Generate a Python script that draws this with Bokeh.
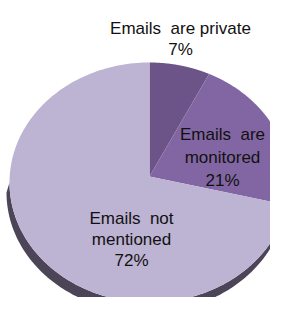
import numpy as np
from bokeh.plotting import figure
from bokeh.models import Range1d
from bokeh.core.properties import value
from bokeh.embed import file_html
from bokeh.resources import INLINE

# ---- data ----
categories = ["Emails are private", "Emails are monitored", "Emails not mentioned"]
percents = [7, 21, 72]
colors = ["#6c5489", "#8266a3", "#bdb3d3"]
label_lines = [["Emails\u00a0 are private", "7%"],
               ["Emails\u00a0 are", "monitored", "21%"],
               ["Emails\u00a0 not", "mentioned", "72%"]]

# ---- layout (screen-pixel coordinates) ----
W, H = 270, 297
p = figure(width=W, height=H, output_backend="svg", toolbar_location=None,
           x_range=Range1d(0, W), y_range=Range1d(H, 0),
           min_border=0)
p.axis.visible = False
p.grid.visible = False
p.outline_line_color = None
p.background_fill_color = "white"

cx, cy, rx, ry = 149, 182, 140, 120
apex = (149, 176)

# side rim
t = np.linspace(np.pi, 2 * np.pi, 200)
ax_ = cx + rx * np.cos(t)
ay_ = cy - ry * np.sin(t)
dx, dy = -3, 10
rim_x = list(ax_ + dx) + list(ax_[::-1])
rim_y = list(ay_ + dy) + list(ay_[::-1])
p.patch(rim_x, rim_y, fill_color="#4b4557", line_color=None)

# slices: start at top, go clockwise
fr = np.array(percents) / sum(percents)
start = np.pi / 2
xs, ys = [], []
for f in fr:
    end = start - 2 * np.pi * f
    tt = np.linspace(start, end, 200)
    xs.append([apex[0]] + list(cx + rx * np.cos(tt)))
    ys.append([apex[1]] + list(cy - ry * np.sin(tt)))
    start = end
p.patches(xs, ys, fill_color=colors, line_color=None)

# labels
label_pos = [(180, [28, 49]), (222, [134, 157, 180]), (131, [218, 239, 260])]
for lines, (lx, lys) in zip(label_lines, label_pos):
    p.text(x=[lx] * len(lines), y=lys, text=lines, text_font=value("Liberation Sans"),
           text_font_size="17px", text_color="#111111", text_align="center",
           text_baseline="alphabetic")

open("out.html", "w").write(file_html(p, INLINE))
